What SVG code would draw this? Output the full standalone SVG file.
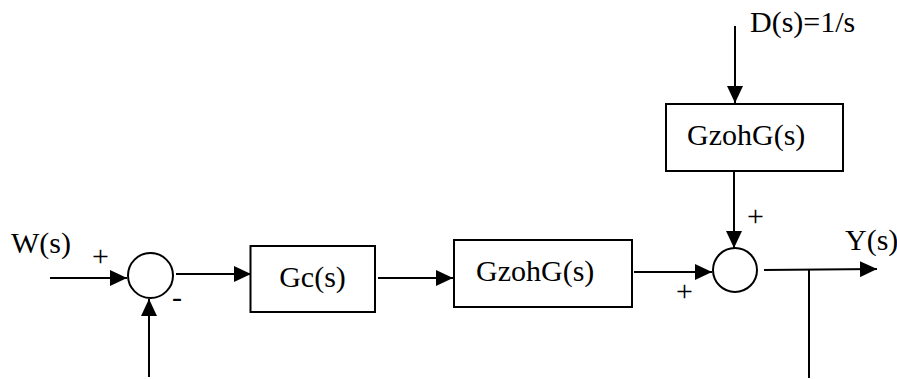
<svg xmlns="http://www.w3.org/2000/svg" width="897" height="379" viewBox="0 0 897 379">
<style>
  .ln{stroke:#000;stroke-width:2;fill:none}
  .bx{stroke:#000;stroke-width:2;fill:#fff}
  .t{font-family:"Liberation Serif","Times New Roman",serif;font-size:30px;fill:#000}
</style>
<defs>
  <marker id="ah" markerUnits="userSpaceOnUse" markerWidth="18" markerHeight="16" refX="17" refY="8" orient="auto">
    <path d="M0,0 L17,8 L0,16 Z" fill="#000"/>
  </marker>
</defs>
<rect width="897" height="379" fill="#fff"/>
<g id="connectors">
  <line class="ln" x1="50" y1="278" x2="127" y2="278" marker-end="url(#ah)"/>
  <line class="ln" x1="149" y1="377" x2="149" y2="299" marker-end="url(#ah)"/>
  <line class="ln" x1="176" y1="274" x2="251" y2="274" marker-end="url(#ah)"/>
  <line class="ln" x1="378" y1="278" x2="453" y2="278" marker-end="url(#ah)"/>
  <line class="ln" x1="634" y1="272" x2="712" y2="272" marker-end="url(#ah)"/>
  <line class="ln" x1="735" y1="26" x2="735" y2="103" marker-end="url(#ah)"/>
  <line class="ln" x1="734" y1="171" x2="734" y2="248" marker-end="url(#ah)"/>
  <line class="ln" x1="764" y1="270" x2="877" y2="269" marker-end="url(#ah)"/>
  <line class="ln" x1="809" y1="269" x2="809" y2="378"/>
</g>
<g id="sum1">
  <circle class="ln" cx="150.5" cy="275.5" r="22.5"/>
</g>
<g id="sum2">
  <circle class="ln" cx="735" cy="270" r="22"/>
</g>
<g id="gc">
  <rect class="bx" x="250.5" y="246" width="124.5" height="66"/>
  <text class="t" x="312.5" y="287" text-anchor="middle">Gc(s)</text>
</g>
<g id="gzoh1">
  <rect class="bx" x="454" y="240" width="178" height="67"/>
  <text class="t" x="476" y="281">GzohG(s)</text>
</g>
<g id="gzoh2">
  <rect class="bx" x="666" y="104" width="177" height="67"/>
  <text class="t" x="687" y="145">GzohG(s)</text>
</g>
<g id="labels">
  <text class="t" x="11" y="253">W(s)</text>
  <text class="t" x="92" y="266">+</text>
  <text class="t" x="172" y="307">-</text>
  <text class="t" x="676" y="301">+</text>
  <text class="t" x="747" y="226">+</text>
  <text class="t" x="845" y="250">Y(s)</text>
  <text class="t" x="750" y="32">D(s)=1/s</text>
</g>
</svg>
